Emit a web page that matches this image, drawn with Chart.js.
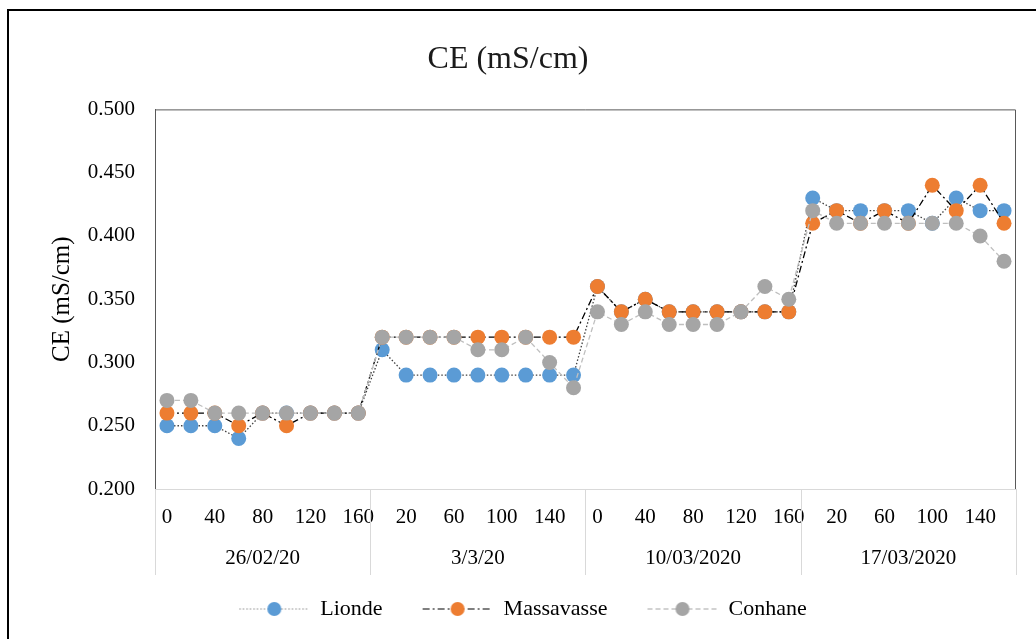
<!DOCTYPE html>
<html>
<head>
<meta charset="utf-8">
<script src="https://cdn.jsdelivr.net/npm/chart.js@4.4.0/dist/chart.umd.min.js"></script>
<style>
  body { margin: 0; background: #fff; }
  #wrap { position: relative; width: 1036px; height: 639px; overflow: hidden; }
  #frame { position: absolute; left: 7px; top: 9px; width: 1100px; height: 700px;
           border-left: 2.5px solid #000; border-top: 2.5px solid #000; }
  #ce-chart { position: absolute; left: 0; top: 0; }
</style>
</head>
<body>
<div id="wrap">
  <div id="frame"></div>
  <canvas id="ce-chart" width="1036" height="639"></canvas>
</div>
<script>
// Sampling minutes, repeated for every campaign date
const minutes = [0, 20, 40, 60, 80, 100, 120, 140, 160];
const dates = ['26/02/20', '3/3/20', '10/03/2020', '17/03/2020'];
const yTicks = [0.200, 0.250, 0.300, 0.350, 0.400, 0.450, 0.500];

// Conductivity readings (mS/cm), 9 per date
const lionde = [
  0.25, 0.25, 0.25, 0.24, 0.26, 0.26, 0.26, 0.26, 0.26,
  0.31, 0.29, 0.29, 0.29, 0.29, 0.29, 0.29, 0.29, 0.29,
  0.36, 0.34, 0.35, 0.34, 0.34, 0.34, 0.34, 0.34, 0.34,
  0.43, 0.42, 0.42, 0.42, 0.42, 0.41, 0.43, 0.42, 0.42
];
const massavasse = [
  0.26, 0.26, 0.26, 0.25, 0.26, 0.25, 0.26, 0.26, 0.26,
  0.32, 0.32, 0.32, 0.32, 0.32, 0.32, 0.32, 0.32, 0.32,
  0.36, 0.34, 0.35, 0.34, 0.34, 0.34, 0.34, 0.34, 0.34,
  0.41, 0.42, 0.41, 0.42, 0.41, 0.44, 0.42, 0.44, 0.41
];
const conhane = [
  0.27, 0.27, 0.26, 0.26, 0.26, 0.26, 0.26, 0.26, 0.26,
  0.32, 0.32, 0.32, 0.32, 0.31, 0.31, 0.32, 0.30, 0.28,
  0.34, 0.33, 0.34, 0.33, 0.33, 0.33, 0.34, 0.36, 0.35,
  0.42, 0.41, 0.41, 0.41, 0.41, 0.41, 0.41, 0.40, 0.38
];

const labels = [];
dates.forEach(() => minutes.forEach(m => labels.push(String(m))));

const serif = '"Liberation Serif", "Times New Roman", serif';

// Legend swatch: a short styled line with the marker in the middle
function swatch(lineColor, dash, fill) {
  const c = document.createElement('canvas');
  c.width = 100; c.height = 18;
  const g = c.getContext('2d');
  g.strokeStyle = lineColor;
  g.lineWidth = 1.2;
  g.setLineDash(dash);
  g.beginPath(); g.moveTo(30, 9); g.lineTo(100, 9); g.stroke();
  g.setLineDash([]);
  g.fillStyle = fill;
  g.beginPath(); g.arc(65, 9, 7, 0, Math.PI * 2); g.fill();
  return c;
}

// Group dates under the minute ticks, plus the frame lines of the plot
const groupAxis = {
  id: 'groupAxis',
  afterDraw(chart) {
    const { ctx, chartArea: a, scales: { x } } = chart;
    const half = (x.getPixelForValue(1) - x.getPixelForValue(0)) / 2;
    ctx.save();
    ctx.strokeStyle = '#d9d9d9';
    ctx.lineWidth = 1;
    for (let g = 0; g <= dates.length; g++) {
      const px = Math.round(x.getPixelForValue(g * minutes.length) - half) + 0.5;
      ctx.beginPath(); ctx.moveTo(px, a.bottom); ctx.lineTo(px, a.bottom + 86); ctx.stroke();
    }
    ctx.strokeStyle = '#595959';
    ctx.beginPath();
    ctx.moveTo(a.left, a.top + 0.5);
    ctx.lineTo(a.right - 0.5, a.top + 0.5);
    ctx.lineTo(a.right - 0.5, a.bottom);
    ctx.stroke();
    ctx.fillStyle = '#000';
    ctx.font = '21px ' + serif;
    ctx.textAlign = 'center';
    ctx.textBaseline = 'middle';
    dates.forEach((d, g) => {
      const first = x.getPixelForValue(g * minutes.length);
      const last = x.getPixelForValue(g * minutes.length + minutes.length - 1);
      ctx.fillText(d, (first + last) / 2, a.bottom + 69);
    });
    ctx.restore();
  }
};

const seriesStyle = [
  { label: 'Lionde', data: lionde, color: '#5b9bd5', line: '#404040', dash: [1.5, 2], legendLine: '#8c8c8c', order: 3 },
  { label: 'Massavasse', data: massavasse, color: '#ed7d31', line: '#000000', dash: [7, 3, 2, 3], legendLine: '#000000', order: 2 },
  { label: 'Conhane', data: conhane, color: '#a5a5a5', line: '#bfbfbf', dash: [5, 3], legendLine: '#a6a6a6', order: 1 }
];

new Chart(document.getElementById('ce-chart'), {
  type: 'line',
  data: {
    labels: labels,
    datasets: seriesStyle.map(s => ({
      label: s.label,
      data: s.data,
      order: s.order,
      borderColor: s.line,
      borderWidth: 1.3,
      borderDash: s.dash,
      pointRadius: 7.5,
      pointHoverRadius: 7.5,
      pointBorderWidth: 0,
      pointBackgroundColor: s.color,
      pointBorderColor: s.color,
      tension: 0,
      fill: false
    }))
  },
  plugins: [groupAxis],
  options: {
    responsive: false,
    animation: false,
    layout: { padding: { left: 0, right: 20, top: 0, bottom: 9 } },
    plugins: {
      title: {
        display: true,
        text: 'CE (mS/cm)',
        color: '#1a1a1a',
        font: { family: serif, size: 32, weight: 'normal' },
        padding: { top: 40, bottom: 31 }
      },
      legend: {
        position: 'bottom',
        labels: {
          usePointStyle: true,
          pointStyleWidth: 100,
          padding: 10,
          color: '#000',
          font: { family: serif, size: 22 },
          generateLabels: chart => seriesStyle.map((s, i) => ({
            text: s.label,
            datasetIndex: i,
            pointStyle: swatch(s.legendLine, s.dash, s.color),
            fillStyle: s.color,
            strokeStyle: s.color,
            lineWidth: 0,
            hidden: false
          }))
        }
      },
      tooltip: { enabled: false }
    },
    scales: {
      x: {
        offset: true,
        grid: { display: false, drawTicks: false },
        border: { display: true, color: '#d9d9d9', width: 1 },
        ticks: {
          autoSkip: false,
          maxRotation: 0,
          padding: 16,
          color: '#000',
          font: { family: serif, size: 21 },
          callback: (v, i) => (i % 2 === 0 ? labels[i] : '')
        },
        afterFit: scale => { scale.height = 99; }
      },
      y: {
        min: yTicks[0],
        max: yTicks[yTicks.length - 1],
        grid: { display: false, drawTicks: false },
        border: { display: true, color: '#595959', width: 1 },
        afterBuildTicks: scale => { scale.ticks = yTicks.map(v => ({ value: v })); },
        ticks: {
          padding: 20,
          color: '#000',
          font: { family: serif, size: 21 },
          callback: v => v.toFixed(3)
        },
        title: {
          display: true,
          text: 'CE (mS/cm)',
          color: '#000',
          font: { family: serif, size: 25 },
          padding: { top: 47, bottom: 0 }
        },
        afterFit: scale => { scale.width = 155; }
      }
    }
  }
});
</script>
</body>
</html>
